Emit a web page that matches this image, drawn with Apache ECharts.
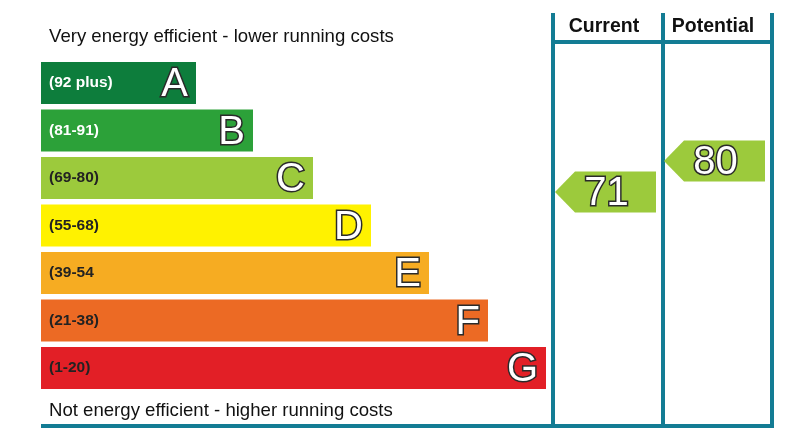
<!DOCTYPE html>
<html>
<head>
<meta charset="utf-8">
<script src="https://cdn.jsdelivr.net/npm/echarts@6/dist/echarts.min.js"></script>
<style>
  html, body { margin: 0; padding: 0; background: #fff; }
  #main { width: 807px; height: 433px; }
</style>
</head>
<body>
<div id="main"></div>
<script>
// bands of the energy scale
var bands = ['A', 'B', 'C', 'D', 'E', 'F', 'G'];
var bandRanges = ['(92 plus)', '(81-91)', '(69-80)', '(55-68)', '(39-54', '(21-38)', '(1-20)'];
var bandLengths = [155, 212, 272, 330, 388, 447, 505];
var bandColors = ['#0d7d3c', '#2ca139', '#9cca3c', '#fff200', '#f6ac22', '#ec6a24', '#e21f26'];
var rangeTextColors = ['#fff', '#fff', '#222', '#222', '#222', '#222', '#222'];

// ratings
var ratingColumns = ['Current', 'Potential'];
var ratingValues = [71, 80];
var ratingColor = '#9cca3c';

var lineColor = '#137c94';
var font = '"Liberation Sans", Arial, sans-serif';

var myChart = echarts.init(document.getElementById('main'));

var option = {
    backgroundColor: '#fff',
    animation: false,
    grid: [
        {left: 41, top: 59.25, width: 505, height: 332.5},
        {left: 553, top: 92.1, width: 218, height: 310}
    ],
    xAxis: [
        {gridIndex: 0, type: 'value', min: 0, max: 505, show: false},
        {gridIndex: 1, type: 'category', data: ratingColumns, show: false}
    ],
    yAxis: [
        {gridIndex: 0, type: 'category', data: bands, inverse: true, show: false},
        {gridIndex: 1, type: 'value', min: 10, max: 100, show: false}
    ],
    series: [
        {
            type: 'bar',
            xAxisIndex: 0,
            yAxisIndex: 0,
            barWidth: 42,
            data: bandLengths.map(function (v, i) {
                return {
                    value: v,
                    itemStyle: {color: bandColors[i]},
                    label: {color: rangeTextColors[i]}
                };
            }),
            label: {
                show: true,
                position: 'insideLeft',
                distance: 8,
                fontFamily: font,
                fontWeight: 'bold',
                fontSize: 15.5,
                formatter: function (p) { return bandRanges[p.dataIndex]; }
            }
        },
        {
            // transparent overlay carrying the band letters
            type: 'bar',
            xAxisIndex: 0,
            yAxisIndex: 0,
            barWidth: 42,
            barGap: '-100%',
            data: bandLengths,
            itemStyle: {color: 'rgba(0,0,0,0)'},
            label: {
                show: true,
                position: 'insideRight',
                distance: 8,
                offset: [0, 2],
                fontFamily: font,
                fontSize: 40,
                color: '#fff',
                textBorderColor: '#2a2a2a',
                textBorderWidth: 3,
                formatter: function (p) { return bands[p.dataIndex]; }
            }
        },
        {
            type: 'custom',
            xAxisIndex: 1,
            yAxisIndex: 1,
            data: ratingValues.map(function (v, i) { return [i, v]; }),
            renderItem: function (params, api) {
                var c = api.coord([api.value(0), api.value(1)]);
                var w = api.size([1, 0])[0];
                var x0 = c[0] - w / 2 + 2;
                var x1 = c[0] + w / 2 - 6;
                var h = 20.5;
                return {
                    type: 'group',
                    children: [
                        {
                            type: 'polygon',
                            shape: {points: [[x0, c[1]], [x0 + 20, c[1] - h], [x1, c[1] - h], [x1, c[1] + h], [x0 + 20, c[1] + h]]},
                            style: {fill: ratingColor}
                        },
                        {
                            type: 'text',
                            x: (x0 + x1) / 2 + 1,
                            y: c[1] + 2,
                            style: {
                                text: String(api.value(1)),
                                fontFamily: font,
                                fontSize: 40,
                                fill: '#fff',
                                stroke: '#2a2a2a',
                                lineWidth: 3,
                                strokeFirst: true,
                                align: 'center',
                                verticalAlign: 'middle'
                            }
                        }
                    ]
                };
            }
        }
    ],
    graphic: [
        {type: 'text', x: 49, y: 37, style: {text: 'Very energy efficient - lower running costs', fontFamily: font, fontSize: 18.6, fill: '#111', verticalAlign: 'middle'}},
        {type: 'text', x: 49, y: 411, style: {text: 'Not energy efficient - higher running costs', fontFamily: font, fontSize: 18.6, fill: '#111', verticalAlign: 'middle'}},
        {type: 'text', x: 604, y: 27, style: {text: ratingColumns[0], fontFamily: font, fontSize: 19.5, fontWeight: 'bold', fill: '#111', align: 'center', verticalAlign: 'middle'}},
        {type: 'text', x: 713, y: 27, style: {text: ratingColumns[1], fontFamily: font, fontSize: 19.5, fontWeight: 'bold', fill: '#111', align: 'center', verticalAlign: 'middle'}},
        {type: 'line', shape: {x1: 553, y1: 13, x2: 553, y2: 428}, style: {stroke: lineColor, lineWidth: 4}},
        {type: 'line', shape: {x1: 663, y1: 13, x2: 663, y2: 428}, style: {stroke: lineColor, lineWidth: 4}},
        {type: 'line', shape: {x1: 772, y1: 13, x2: 772, y2: 428}, style: {stroke: lineColor, lineWidth: 4}},
        {type: 'line', shape: {x1: 551, y1: 42, x2: 774, y2: 42}, style: {stroke: lineColor, lineWidth: 4}},
        {type: 'line', shape: {x1: 41, y1: 426, x2: 774, y2: 426}, style: {stroke: lineColor, lineWidth: 4}}
    ]
};

myChart.setOption(option);
</script>
</body>
</html>
